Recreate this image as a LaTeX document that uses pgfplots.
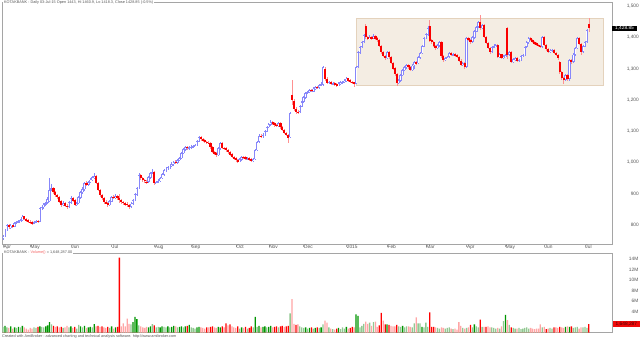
\documentclass[border=0pt]{standalone}
\usepackage{pgfplots}
\pgfplotsset{compat=1.18}
\usepackage{pgfplotstable}
\usepackage{fontspec}
\setmainfont{Liberation Sans}

\definecolor{upc}{RGB}{135,135,250}
\definecolor{dnc}{RGB}{250,0,0}
\definecolor{dnw}{RGB}{255,145,145}
\definecolor{vgd}{RGB}{0,150,0}
\definecolor{vgl}{RGB}{145,200,145}
\definecolor{vrd}{RGB}{255,0,0}
\definecolor{vrl}{RGB}{255,165,165}
\definecolor{frm}{RGB}{165,165,165}
\definecolor{txt}{RGB}{85,85,85}
\definecolor{boxf}{RGB}{244,237,227}
\definecolor{boxd}{RGB}{228,210,188}

\pgfplotsset{
 cbar/.style={draw=none, mark=none, forget plot,
   error bars/.cd, y dir=both, y explicit, error mark=none},
 vbar/.style={ybar, bar width=1.3pt, bar shift=0pt, draw=none, mark=none, forget plot},
}

\pgfplotstableread{
i o h l c v k
0 758 768 752 763 1.1 0
1 764 788 762 785 1.3 1
2 786 804 782 800 1.0 0
3 801 803 788 792 0.9 0
4 791 802 787 798 1.2 1
5 799 801 790 795 0.8 0
6 794 808 792 805 1.0 1
7 806 814 802 810 0.9 0
8 809 816 805 812 1.1 1
9 811 820 808 816 1.0 0
10 815 832 812 827 1.3 1
11 828 830 815 818 1.0 0
12 819 822 811 815 0.8 0
13 816 818 806 812 0.6 0
14 810 815 803 808 0.9 0
15 809 812 801 806 0.8 0
16 805 813 803 809 1.0 0
17 808 815 806 812 0.9 0
18 813 816 806 810 1.1 1
19 811 858 810 854 1.2 1
20 853 864 848 858 1.1 0
21 857 870 852 865 1.0 0
22 866 874 860 870 1.2 1
23 871 888 866 882 1.4 1
24 876 950 872 912 2.0 1
25 914 930 908 918 1.6 0
26 919 922 900 905 1.3 1
27 904 910 890 895 1.1 0
28 896 900 884 890 1.2 1
29 889 892 870 875 1.0 0
30 876 880 858 864 1.1 1
31 863 876 860 870 0.9 0
32 871 874 856 860 1.0 0
33 861 868 850 858 1.3 0
34 857 876 855 872 1.0 0
35 871 892 868 886 1.2 1
36 887 890 874 878 0.9 0
37 879 882 860 864 1.1 1
38 863 874 860 870 0.8 0
39 869 892 866 888 1.5 0
40 887 910 884 906 1.2 1
41 905 920 900 915 1.0 0
42 914 938 910 934 1.3 1
43 935 940 925 930 0.9 0
44 929 942 926 938 1.0 1
45 937 950 934 945 1.1 1
46 944 958 940 952 1.0 0
47 951 966 948 957 1.65 1
48 958 960 930 934 1.2 0
49 935 938 908 912 1.3 1
50 913 916 890 896 1.1 0
51 897 900 880 885 1.2 1
52 886 888 868 874 1.0 0
53 873 880 866 870 0.9 0
54 871 874 858 864 1.1 1
55 863 880 860 876 0.9 0
56 875 894 872 890 1.2 1
57 891 896 884 888 0.8 0
58 887 898 884 892 1.0 1
59 893 895 880 885 1.1 1
60 886 900 870 880 14.3 1
61 881 884 868 874 1.2 0
62 875 878 864 870 1.8 0
63 871 874 860 866 1.2 0
64 867 872 856 864 2.7 0
65 865 868 850 858 1.7 0
66 857 872 854 868 1.6 0
67 867 884 864 880 2.0 1
68 879 902 876 898 3.0 1
69 897 922 894 918 2.6 1
70 917 965 914 960 1.4 0
71 961 964 945 950 1.2 0
72 951 954 938 944 1.0 0
73 945 948 935 940 0.9 0
74 939 944 930 938 1.1 0
75 937 956 934 952 1.0 1
76 951 970 948 965 1.2 1
77 966 980 962 970 1.65 0
78 969 972 928 934 1.4 1
79 933 942 930 938 1.0 0
80 937 946 934 941 1.1 0
81 940 955 938 950 1.0 1
82 949 966 946 962 1.2 1
83 961 978 958 975 1.1 0
84 974 986 970 980 1.0 0
85 979 990 975 985 1.2 1
86 984 994 980 990 1.0 0
87 989 1000 985 995 1.1 1
88 994 1006 990 1002 1.3 1
89 1003 1008 995 1000 1.2 0
90 999 1012 996 1008 1.0 0
91 1007 1018 1004 1014 1.1 1
92 1013 1034 1010 1030 1.2 1
93 1029 1046 1026 1042 1.0 0
94 1041 1054 1038 1050 1.2 1
95 1051 1054 1040 1045 1.3 1
96 1044 1052 1040 1048 1.5 1
97 1047 1055 1043 1050 1.0 0
98 1049 1056 1045 1052 0.9 0
99 1051 1060 1048 1056 0.8 0
100 1055 1072 1052 1068 1.0 1
101 1067 1086 1064 1081 1.1 1
102 1082 1084 1070 1075 1.0 0
103 1076 1079 1066 1070 0.9 0
104 1071 1074 1062 1066 0.8 0
105 1067 1070 1060 1064 1.0 1
106 1063 1068 1058 1062 1.0 0
107 1063 1065 1044 1048 1.1 1
108 1049 1052 1030 1034 1.2 1
109 1035 1038 1024 1028 1.0 0
110 1029 1032 1018 1024 0.9 0
111 1023 1050 1020 1045 1.1 1
112 1044 1066 1040 1062 1.0 1
113 1063 1065 1042 1046 1.2 1
114 1047 1050 1040 1044 1.0 0
115 1045 1048 1034 1040 1.8 1
116 1041 1044 1028 1032 1.4 0
117 1033 1036 1020 1025 1.6 1
118 1026 1029 1014 1018 1.2 0
119 1019 1022 1008 1012 1.0 0
120 1013 1016 1002 1008 0.9 0
121 1009 1012 998 1003 1.2 1
122 1002 1014 1000 1010 0.8 0
123 1009 1022 1006 1018 1.0 1
124 1019 1022 1012 1016 0.9 0
125 1017 1020 1008 1012 1.1 1
126 1011 1018 1008 1014 0.8 0
127 1015 1017 1004 1010 0.9 1
128 1011 1013 1000 1006 1.2 1
129 1005 1015 1002 1011 1.0 0
130 1010 1044 1008 1040 3.0 1
131 1039 1070 1036 1066 1.1 0
132 1065 1090 1062 1085 1.3 1
133 1086 1090 1078 1082 1.0 0
134 1081 1094 1078 1088 1.1 1
135 1087 1104 1084 1100 1.2 1
136 1099 1118 1096 1114 1.0 0
137 1113 1126 1110 1122 1.1 1
138 1121 1135 1118 1130 1.3 1
139 1131 1133 1120 1124 1.0 0
140 1125 1128 1115 1120 1.1 1
141 1121 1124 1112 1118 1.2 1
142 1117 1130 1114 1126 1.0 0
143 1127 1129 1108 1112 1.2 1
144 1113 1116 1100 1104 1.3 1
145 1105 1108 1090 1094 1.1 0
146 1095 1098 1084 1088 1.2 1
147 1089 1092 1063 1078 1.3 1
148 1080 1162 1078 1158 3.7 0
149 1215 1264 1185 1200 6.4 0
150 1198 1202 1166 1172 1.7 0
151 1171 1176 1156 1162 1.5 1
152 1163 1168 1155 1162 1.6 0
153 1161 1184 1158 1180 1.2 0
154 1179 1198 1176 1194 1.0 0
155 1193 1212 1190 1208 0.9 0
156 1207 1226 1204 1222 1.0 1
157 1223 1230 1218 1226 0.8 0
158 1225 1236 1222 1232 0.9 1
159 1233 1236 1224 1228 1.0 1
160 1227 1240 1224 1236 0.8 0
161 1235 1246 1232 1242 0.9 1
162 1243 1246 1236 1240 1.0 1
163 1239 1252 1236 1248 0.9 0
164 1247 1256 1244 1250 1.0 1
165 1249 1310 1246 1305 1.6 0
166 1300 1304 1262 1268 2.3 0
167 1267 1272 1250 1254 1.9 0
168 1253 1262 1250 1258 1.0 0
169 1259 1262 1248 1252 0.8 0
170 1251 1258 1248 1254 0.7 0
171 1255 1258 1246 1250 0.6 0
172 1251 1254 1242 1248 0.8 1
173 1247 1256 1244 1252 0.9 1
174 1251 1260 1248 1256 0.7 0
175 1255 1262 1252 1258 1.0 0
176 1257 1266 1254 1262 0.8 0
177 1261 1274 1258 1268 1.1 1
178 1269 1271 1258 1262 0.8 0
179 1263 1266 1254 1258 0.9 1
180 1259 1262 1250 1255 1.1 1
181 1256 1258 1240 1250 1.0 0
182 1252 1310 1250 1306 3.5 1
183 1305 1356 1302 1352 3.2 1
184 1351 1374 1348 1370 1.0 0
185 1369 1390 1366 1386 1.3 0
186 1385 1412 1382 1408 1.7 0
187 1436 1442 1396 1400 2.1 0
188 1401 1404 1392 1398 1.7 0
189 1397 1408 1394 1402 1.9 0
190 1401 1404 1392 1398 1.3 0
191 1397 1410 1394 1404 2.0 0
192 1405 1408 1392 1396 2.1 0
193 1397 1400 1386 1392 1.1 0
194 1393 1396 1368 1372 1.4 1
195 1373 1376 1348 1354 3.8 1
196 1355 1358 1336 1340 2.3 0
197 1341 1344 1328 1334 1.6 1
198 1333 1358 1330 1354 1.6 1
199 1355 1358 1332 1336 1.5 1
200 1337 1340 1314 1318 1.3 0
201 1319 1322 1296 1300 1.2 0
202 1301 1304 1278 1282 1.2 0
203 1283 1286 1244 1254 1.5 1
204 1253 1266 1250 1262 1.2 0
205 1261 1284 1258 1280 1.1 0
206 1279 1300 1276 1296 1.3 1
207 1295 1310 1292 1305 1.0 0
208 1304 1316 1300 1312 1.2 0
209 1313 1316 1300 1304 1.2 0
210 1305 1308 1292 1296 1.1 0
211 1295 1314 1292 1310 1.0 0
212 1311 1326 1300 1322 1.8 0
213 1321 1324 1312 1318 2.9 0
214 1317 1340 1314 1336 1.8 0
215 1335 1354 1332 1350 1.8 0
216 1349 1376 1346 1372 1.1 1
217 1371 1402 1368 1398 1.0 0
218 1397 1414 1394 1410 1.9 0
219 1409 1436 1406 1430 1.1 0
220 1436 1456 1385 1390 3.9 1
221 1391 1394 1380 1386 1.1 1
222 1387 1390 1368 1372 1.1 1
223 1373 1376 1360 1366 1.0 0
224 1365 1380 1362 1375 0.9 0
225 1374 1390 1370 1386 0.8 0
226 1387 1390 1334 1340 1.0 0
227 1341 1344 1322 1328 0.9 0
228 1327 1338 1324 1334 0.8 0
229 1333 1342 1330 1338 0.9 0
230 1337 1354 1334 1350 1.0 0
231 1351 1354 1340 1344 0.8 0
232 1343 1350 1340 1346 0.7 0
233 1347 1350 1338 1342 0.8 0
234 1343 1346 1334 1338 0.6 0
235 1339 1342 1320 1325 2.0 0
236 1326 1330 1308 1312 1.3 0
237 1311 1322 1308 1318 0.9 0
238 1319 1322 1300 1306 0.8 0
239 1305 1402 1302 1398 0.9 0
240 1399 1402 1388 1392 1.0 0
241 1393 1396 1380 1386 1.5 1
242 1385 1404 1382 1400 1.0 0
243 1399 1424 1396 1420 1.6 1
244 1419 1438 1416 1434 1.2 0
245 1433 1452 1430 1448 1.0 0
246 1450 1472 1425 1430 2.5 1
247 1429 1444 1426 1440 1.1 0
248 1441 1444 1398 1402 1.1 0
249 1403 1406 1378 1382 1.1 1
250 1383 1386 1362 1366 1.2 0
251 1367 1370 1348 1354 1.0 0
252 1353 1374 1350 1370 1.0 0
253 1369 1378 1366 1372 0.9 0
254 1371 1380 1368 1376 0.8 0
255 1377 1380 1334 1338 0.9 0
256 1337 1350 1334 1345 0.8 0
257 1346 1348 1330 1334 1.2 0
258 1333 1344 1330 1340 2.2 0
259 1339 1348 1336 1344 3.4 1
260 1430 1432 1330 1345 2.4 0
261 1344 1358 1340 1354 1.5 0
262 1355 1358 1318 1322 1.0 1
263 1321 1334 1318 1330 0.9 0
264 1329 1338 1326 1334 0.8 0
265 1335 1338 1322 1326 0.8 0
266 1325 1332 1322 1328 0.9 0
267 1327 1344 1324 1340 0.7 0
268 1339 1348 1336 1344 0.8 0
269 1343 1374 1340 1370 0.9 0
270 1369 1390 1366 1385 1.0 0
271 1384 1402 1380 1398 0.8 0
272 1399 1402 1388 1392 0.9 0
273 1393 1396 1382 1386 0.8 0
274 1387 1390 1376 1380 0.7 0
275 1381 1384 1372 1376 0.8 0
276 1377 1380 1368 1372 0.8 0
277 1373 1376 1366 1370 1.6 0
278 1369 1406 1366 1402 1.0 0
279 1403 1406 1372 1376 1.1 0
280 1377 1380 1358 1362 0.7 1
281 1363 1366 1350 1354 0.8 0
282 1353 1362 1350 1358 0.9 0
283 1357 1364 1354 1360 0.8 0
284 1361 1364 1346 1350 1.0 1
285 1351 1354 1340 1344 1.0 0
286 1345 1348 1328 1334 0.9 0
287 1320 1324 1284 1290 1.1 1
288 1291 1294 1264 1270 1.0 0
289 1271 1274 1250 1265 0.9 0
290 1264 1284 1260 1280 1.1 1
291 1281 1284 1262 1268 1.2 0
292 1267 1332 1262 1328 1.1 1
293 1329 1332 1316 1322 1.2 1
294 1321 1350 1318 1345 0.9 0
295 1344 1370 1340 1366 1.0 0
296 1365 1402 1362 1398 1.1 0
297 1399 1402 1376 1380 0.8 0
298 1379 1382 1344 1354 1.0 0
299 1353 1376 1350 1372 1.0 0
300 1371 1390 1368 1386 1.1 0
301 1385 1428 1382 1424 0.9 0
302 1443 1460.9 1418.3 1428.85 1.648 1
}\data

\newcommand\tfont{\fontsize{4.8}{5}\selectfont}
\newcommand\hfont{\fontsize{3.8}{4}\selectfont}

\begin{document}
\begin{tikzpicture}
\useasboundingbox (0pt,0pt) rectangle (640pt,341pt);
\fill[white] (0pt,0pt) rectangle (640pt,341pt);

% ---------- price panel ----------
\begin{axis}[
  at={(2pt,97pt)}, anchor=south west, scale only axis,
  width=610.5pt, height=241.5pt,
  xmin=-0.5155, xmax=314.2, ymin=739, ymax=1512,
  axis line style={frm, line width=0.6pt},
  xtick={0,14,35,56,78,97,120,137,155,177,198,218,239,259,279,300},
  xticklabels={Apr,May,Jun,Jul,Aug,Sep,Oct,Nov,Dec,2015,Feb,Mar,Apr,May,Jun,Jul},
  xtick pos=bottom, xtick align=outside, major tick length=3pt,
  x tick style={frm, line width=0.5pt},
  xticklabel style={anchor=north west, inner sep=0pt, xshift=0.3pt, yshift=2.2pt},
  ytick={800,900,1000,1100,1200,1300,1400,1500},
  yticklabel pos=right, y tick style={draw=none},
  yticklabel style={anchor=east, inner sep=0pt, xshift=26.5pt},
  tick label style={font=\tfont, text=txt},
  scaled y ticks=false,
  /pgf/number format/1000 sep={,},
  /pgf/number format/assume math mode=true,
]
\fill[boxf, draw=boxd, line width=0.6pt] (axis cs:182,1248) rectangle (axis cs:309.3,1462);
% up candles (rows with c >= o)
\addplot[cbar, error bar style={draw=upc, line width=0.55pt}]
  table[x=i, y expr={(\thisrow{h}+\thisrow{l})/2},
        y error expr={(1-(\thisrow{c}<\thisrow{o}))*(\thisrow{h}-\thisrow{l})/2}] {\data};
\addplot[cbar, error bar style={draw=upc, line width=2.4pt}]
  table[x=i, y expr={(\thisrow{o}+\thisrow{c})/2},
        y error expr={max((\thisrow{c}-\thisrow{o})/2,0)}] {\data};
\addplot[cbar, error bar style={draw=white, line width=1.0pt}]
  table[x=i, y expr={(\thisrow{o}+\thisrow{c})/2},
        y error expr={max((\thisrow{c}-\thisrow{o})/2-2.2,0)}] {\data};
% down candles (rows with c < o)
\addplot[cbar, error bar style={draw=dnw, line width=0.55pt}]
  table[x=i, y expr={(\thisrow{h}+\thisrow{l})/2},
        y error expr={(\thisrow{c}<\thisrow{o})*(\thisrow{h}-\thisrow{l})/2}] {\data};
\addplot[cbar, error bar style={draw=dnc, line width=2.2pt}]
  table[x=i, y expr={(\thisrow{o}+\thisrow{c})/2},
        y error expr={max((\thisrow{o}-\thisrow{c})/2,0)}] {\data};
\coordinate (cp) at (axis cs:314.2,1428.85);
\end{axis}

% ---------- volume panel ----------
\begin{axis}[
  at={(2pt,8.3pt)}, anchor=south west, scale only axis,
  width=610.5pt, height=79.7pt,
  xmin=-0.5155, xmax=314.2, ymin=0, ymax=15.2,
  axis line style={frm, line width=0.6pt},
  xtick=\empty,
  ytick={4,6,8,10,12,14},
  yticklabels={4M,6M,8M,10M,12M,14M},
  yticklabel pos=right, y tick style={draw=none},
  yticklabel style={anchor=east, inner sep=0pt, xshift=26pt},
  tick label style={font=\tfont, text=txt},
]
\addplot[vbar, fill=vgd]
  table[x=i, y expr={(1-(\thisrow{c}<\thisrow{o}))*(\thisrow{k}>0.5)*\thisrow{v}}] {\data};
\addplot[vbar, fill=vgl]
  table[x=i, y expr={(1-(\thisrow{c}<\thisrow{o}))*(\thisrow{k}<0.5)*\thisrow{v}}] {\data};
\addplot[vbar, fill=vrd]
  table[x=i, y expr={(\thisrow{c}<\thisrow{o})*(\thisrow{k}>0.5)*\thisrow{v}}] {\data};
\addplot[vbar, fill=vrl]
  table[x=i, y expr={(\thisrow{c}<\thisrow{o})*(\thisrow{k}<0.5)*\thisrow{v}}] {\data};
\coordinate (cv) at (axis cs:314.2,1.648);
\end{axis}

% ---------- labels ----------
\node[anchor=west, fill=black, text=white, inner xsep=3pt, inner ysep=0.5pt, font=\tfont] at ([xshift=-0.5pt]cp) {1,428.85};
\node[anchor=west, fill={rgb,255:red,240;green,10;blue,10}, text={rgb,255:red,70;green,0;blue,0}, inner xsep=3pt, inner ysep=0.6pt, font=\tfont] at (cv) {1,648,287};

\node[anchor=west, fill=white, inner xsep=1pt, inner ysep=0.4pt, font=\hfont, text=txt] at (3pt,338.5pt)
  {KOTAKBANK - Daily 03-Jul-15 Open 1443, Hi 1460.9, Lo 1418.3, Close 1428.85 (-0.5\%)};
\node[anchor=west, fill=white, inner xsep=1pt, inner ysep=0.4pt, font=\hfont, text=txt] at (3pt,88pt)
  {KOTAKBANK - \textcolor[RGB]{245,100,100}{Volume()} = 1,648,287.00};
\node[anchor=west, inner sep=0pt, font=\hfont, text=txt] at (2pt,4pt)
  {Created with AmiBroker - advanced charting and technical analysis software. http://www.amibroker.com};
\end{tikzpicture}
\end{document}
